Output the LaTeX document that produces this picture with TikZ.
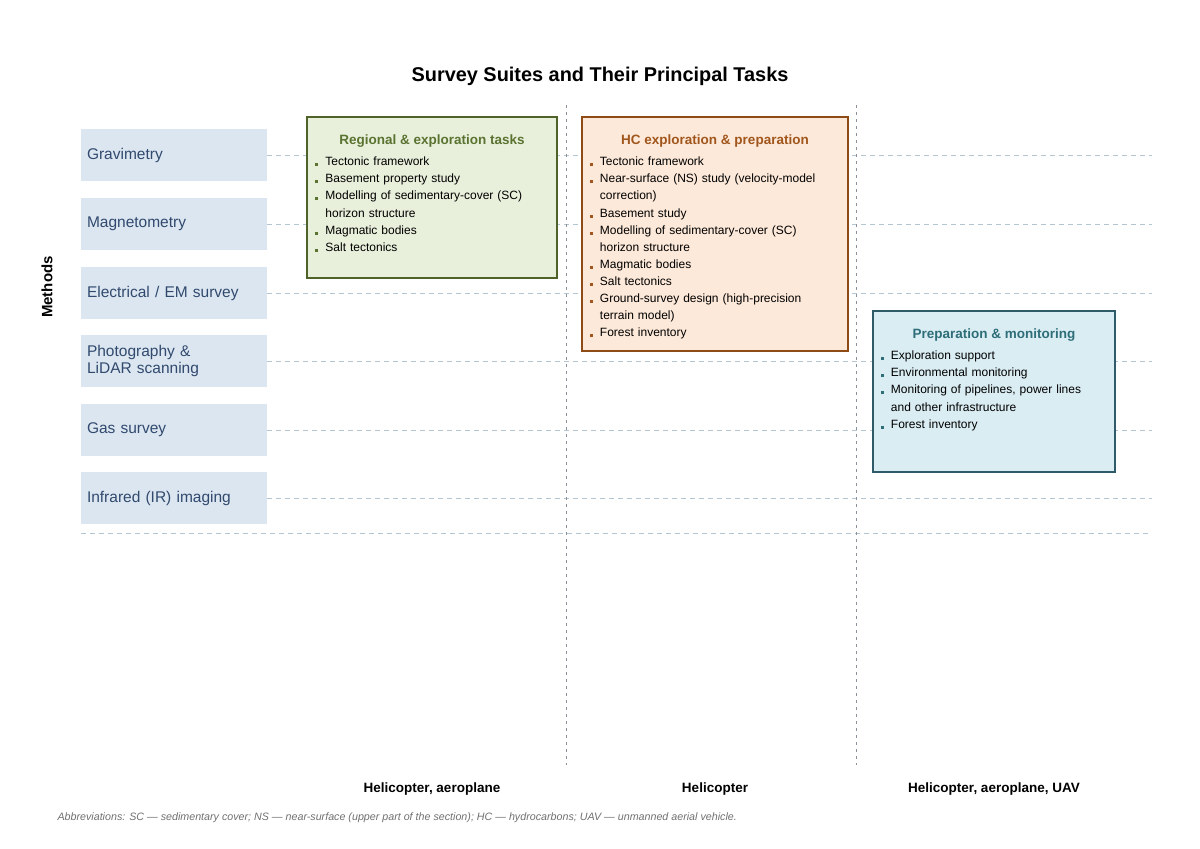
\documentclass[tikz,border=0pt]{standalone}
\usepackage{fontspec}
\setmainfont{Liberation Sans}
\definecolor{methodfill}{HTML}{DCE6F1}
\definecolor{methodtext}{HTML}{30496D}
\definecolor{gridline}{HTML}{B4C6D2}
\definecolor{colline}{HTML}{8C9099}
\definecolor{greenfill}{HTML}{E8F0DB}
\definecolor{greendraw}{HTML}{4F6228}
\definecolor{greentext}{HTML}{5B7331}
\definecolor{orangefill}{HTML}{FDE9D9}
\definecolor{orangedraw}{HTML}{8E4B16}
\definecolor{orangetext}{HTML}{A0561C}
\definecolor{tealfill}{HTML}{DAEDF3}
\definecolor{tealdraw}{HTML}{2F5A68}
\definecolor{tealtext}{HTML}{2E6E78}
\definecolor{notetext}{HTML}{707070}
\begin{document}
\begin{tikzpicture}[x=1pt,y=-1pt,
  method/.style={fill=methodfill,text=methodtext,minimum width=186pt,minimum height=52pt,
    text width=174pt,inner xsep=6pt,align=left,font=\fontsize{15.5}{17}\selectfont},
  gridrule/.style={gridline,line width=0.8pt,dash pattern=on 5pt off 4pt},
  colrule/.style={colline,line width=0.8pt,dash pattern=on 3pt off 4pt},
  taskbox/.style={draw=#1draw,fill=#1fill,line width=1.5pt,inner sep=0pt},
  tasktitle/.style={text=#1text,anchor=base,font=\fontsize{13.5}{16}\selectfont\bfseries},
  tasklist/.style={anchor=base west,inner sep=0pt,text width=250pt,align=left,
    font=\fontsize{12}{17.1}\selectfont},
  vehicle/.style={anchor=base,font=\fontsize{13.5}{16}\selectfont\bfseries}]
  \useasboundingbox (0,0) rectangle (1200,849);
  \def\bul#1{\makebox[10pt][l]{\textcolor{#1text}{\rule[-0.5pt]{3pt}{3pt}}}}
  \def\ct{\hspace*{10pt}}
  \coordinate (rx) at (1152,0);
  \def\meth#1#2#3{
    \node[method] (#1) at (174,#2) {#3};
    \draw[gridrule] (#1.east) -- (#1.east -| rx);
  }
  \node[anchor=base,font=\fontsize{19.9}{22}\selectfont\bfseries] (title) at (600,81)
    {Survey Suites and Their Principal Tasks};
  \node[rotate=90,font=\fontsize{15}{17}\selectfont\bfseries] (axis) at (47,287) {Methods};
  \meth{grav}{155}{Gravimetry}
  \meth{magn}{224}{Magnetometry}
  \meth{elec}{293}{Electrical / EM survey}
  \meth{lidar}{361}{Photography \&\\LiDAR scanning}
  \meth{gas}{430}{Gas survey}
  \meth{ir}{498}{Infrared (IR) imaging}
  \coordinate (bl) at (81,533);
  \draw[gridrule] (bl) -- (bl -| rx);
  \coordinate (c1t) at (566,105);
  \coordinate (c1b) at (566,765);
  \coordinate (c2t) at (856,105);
  \coordinate (c2b) at (856,765);
  \draw[colrule] (c1t) -- (c1b);
  \draw[colrule] (c2t) -- (c2b);
  \node[taskbox=green,minimum width=250pt,minimum height=161pt] (regional) at (432,197.5) {};
  \node[tasktitle=green] (regionalt) at ([yshift=-28.5pt]regional.north) {Regional \& exploration tasks};
  \node[tasklist] (regionall) at ([xshift=9pt,yshift=-49.5pt]regional.north west) {%
    \bul{green}Tectonic framework\\
    \bul{green}Basement property study\\
    \bul{green}Modelling of sedimentary-cover (SC)\\
    \ct horizon structure\\
    \bul{green}Magmatic bodies\\
    \bul{green}Salt tectonics};
  \node[taskbox=orange,minimum width=266pt,minimum height=234pt] (hc) at (715,234) {};
  \node[tasktitle=orange] (hct) at ([yshift=-28.5pt]hc.north) {HC exploration \& preparation};
  \node[tasklist] (hcl) at ([xshift=8.5pt,yshift=-49.5pt]hc.north west) {%
    \bul{orange}Tectonic framework\\
    \bul{orange}Near-surface (NS) study (velocity-model\\
    \ct correction)\\
    \bul{orange}Basement study\\
    \bul{orange}Modelling of sedimentary-cover (SC)\\
    \ct horizon structure\\
    \bul{orange}Magmatic bodies\\
    \bul{orange}Salt tectonics\\
    \bul{orange}Ground-survey design (high-precision\\
    \ct terrain model)\\
    \bul{orange}Forest inventory};
  \node[taskbox=teal,minimum width=242pt,minimum height=161pt] (monit) at (994,391.5) {};
  \node[tasktitle=teal] (monitt) at ([yshift=-28.5pt]monit.north) {Preparation \& monitoring};
  \node[tasklist] (monitl) at ([xshift=8.5pt,yshift=-49.5pt]monit.north west) {%
    \bul{teal}Exploration support\\
    \bul{teal}Environmental monitoring\\
    \bul{teal}Monitoring of pipelines, power lines\\
    \ct and other infrastructure\\
    \bul{teal}Forest inventory};
  \node[vehicle] (veh1) at (432,792) {Helicopter, aeroplane};
  \node[vehicle] (veh2) at (715,792) {Helicopter};
  \node[vehicle] (veh3) at (994,792) {Helicopter, aeroplane, UAV};
  \node[anchor=base west,text=notetext,font=\fontsize{10.7}{12}\selectfont\itshape] (note) at (54,820)
    {Abbreviations: SC — sedimentary cover; NS — near-surface (upper part of the section); HC — hydrocarbons; UAV — unmanned aerial vehicle.};
\end{tikzpicture}
\end{document}
